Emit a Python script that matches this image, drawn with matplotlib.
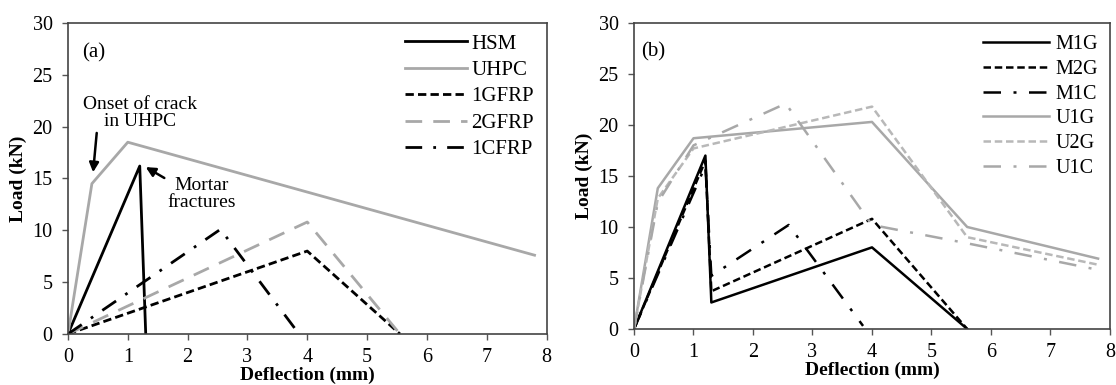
import matplotlib
matplotlib.use("Agg")
import matplotlib.pyplot as plt

plt.rcParams['font.family'] = ['Liberation Serif', 'DejaVu Serif']

# ---- Panel (a) data ----
hsm_x = [0, 1.2, 1.3]
hsm_y = [0, 16.2, 0]
uhpc_x = [0, 0.4, 1.0, 7.8]
uhpc_y = [0, 14.5, 18.5, 7.6]
g1_x = [0, 4.0, 5.55]
g1_y = [0, 8.0, 0]
g2_x = [0, 4.0, 5.55]
g2_y = [0, 10.8, 0]
c1_x = [0, 2.55, 3.85]
c1_y = [0, 10.1, 0.1]

# ---- Panel (b) data ----
m1g_x = [0, 1.2, 1.3, 4.0, 5.6]
m1g_y = [0, 17.0, 2.6, 8.0, 0]
m2g_x = [0, 1.2, 1.3, 4.0, 5.6]
m2g_y = [0, 16.5, 3.7, 10.8, 0]
m1c_x = [0, 1.2, 1.3, 2.6, 3.85]
m1c_y = [0, 16.0, 5.2, 10.2, 0.3]
u1g_x = [0, 0.4, 1.0, 4.0, 5.6, 7.8]
u1g_y = [0, 13.8, 18.7, 20.3, 10.0, 6.9]
u2g_x = [0, 0.4, 1.0, 4.0, 5.6, 7.8]
u2g_y = [0, 12.8, 17.7, 21.8, 9.0, 6.3]
u1c_x = [0, 0.4, 1.0, 2.55, 4.0, 5.6, 7.8]
u1c_y = [0, 12.4, 18.0, 22.1, 10.2, 8.4, 5.8]

xticks = [0, 1, 2, 3, 4, 5, 6, 7, 8]
yticks = [0, 5, 10, 15, 20, 25, 30]

GRAY = '#a8a8a8'
fig = plt.figure(figsize=(11.16, 3.85), dpi=100)
axa = fig.add_axes([0.0609, 0.1325, 0.4288, 0.8078])
axb = fig.add_axes([0.5681, 0.1455, 0.4265, 0.7948])

def style(ax):
    ax.set_xlim(0, 8)
    ax.set_ylim(0, 30)
    ax.set_xticks(xticks)
    ax.set_yticks(yticks)
    ax.tick_params(direction='out', length=4, width=1, colors='#555555',
                   labelsize=14.5, labelcolor='black')
    ax.tick_params(axis='x', pad=6)
    ax.tick_params(axis='y', pad=7)
    for s in ax.spines.values():
        s.set_color('#444444')
        s.set_linewidth(1.2)
    ax.set_xlabel('Deflection (mm)', fontsize=14, fontweight='bold', labelpad=0)
    ax.set_ylabel('Load (kN)', fontsize=14, fontweight='bold', labelpad=4)

lw = 2.0
axa.plot(hsm_x, hsm_y, color='black', lw=lw, label='HSM')
axa.plot(uhpc_x, uhpc_y, color=GRAY, lw=lw, label='UHPC')
axa.plot(g1_x, g1_y, color='black', lw=lw, dashes=(3, 1.5), label='1GFRP')
axa.plot(g2_x, g2_y, color=GRAY, lw=lw, dashes=(6, 4), label='2GFRP')
axa.plot(c1_x, c1_y, color='black', lw=lw, dashes=(6, 4, 1, 4), label='1CFRP')
style(axa)
axa.text(0.03, 0.905, '(a)', transform=axa.transAxes, fontsize=15, va='center', ha='left')
axa.legend(loc='upper right', bbox_to_anchor=(1.0, 1.005), frameon=False, fontsize=15,
           handlelength=3.0, handletextpad=0.2, labelspacing=0.33, borderaxespad=0.2)
axa.annotate('Onset of crack\nin UHPC', xy=(0.42, 15.6), xytext=(1.21, 21.3),
             fontsize=14, ha='center', va='center', linespacing=1.0,
             arrowprops=dict(arrowstyle='-|>', color='black', lw=1.8, mutation_scale=14,
                             shrinkA=0, shrinkB=0, relpos=(0.12, 0.0)))
axa.annotate('Mortar\nfractures', xy=(1.3, 16.1), xytext=(2.23, 13.55),
             fontsize=14, ha='center', va='center', linespacing=1.0,
             arrowprops=dict(arrowstyle='-|>', color='black', lw=1.8, mutation_scale=14,
                             shrinkA=0, shrinkB=0, relpos=(0.05, 0.85)))

lwb = 1.8
axb.plot(m1g_x, m1g_y, color='black', lw=lwb, label='M1G')
axb.plot(m2g_x, m2g_y, color='black', lw=lwb, dashes=(3, 1.5), label='M2G')
axb.plot(m1c_x, m1c_y, color='black', lw=lwb, dashes=(7, 5, 1.2, 5), label='M1C')
axb.plot(u1g_x, u1g_y, color=GRAY, lw=lwb, label='U1G')
axb.plot(u2g_x, u2g_y, color='#b8b8b8', lw=lwb, dashes=(3, 1.5), label='U2G')
axb.plot(u1c_x, u1c_y, color=GRAY, lw=lwb, dashes=(7, 5, 1.2, 5), label='U1C')
style(axb)
axb.text(0.015, 0.905, '(b)', transform=axb.transAxes, fontsize=15, va='center', ha='left')
axb.legend(loc='upper right', bbox_to_anchor=(1.0, 1.0), frameon=False, fontsize=14.5,
           handlelength=3.3, handletextpad=0.3, labelspacing=0.28, borderaxespad=0.2)

fig.savefig('out.png', dpi=100)
